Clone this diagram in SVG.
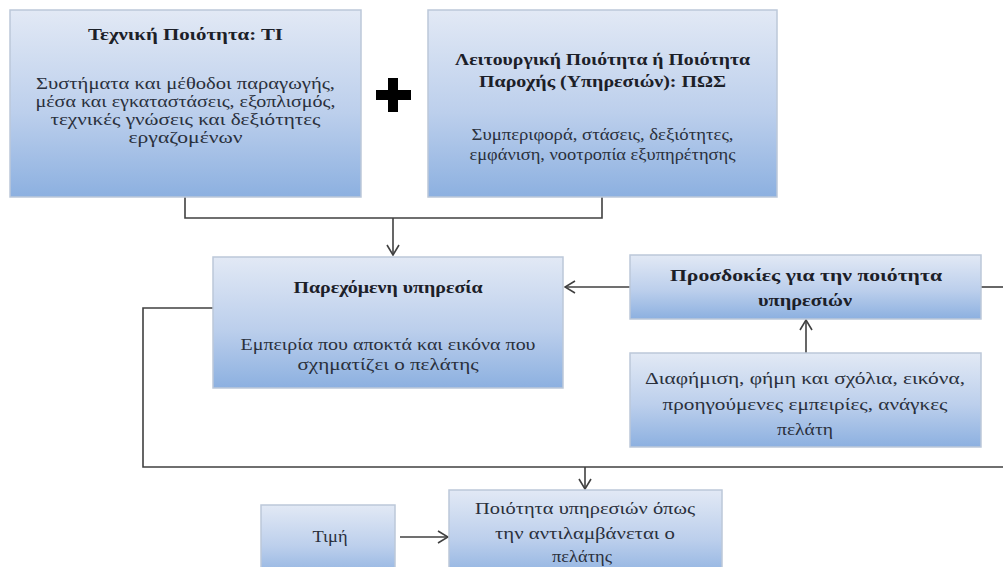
<svg xmlns="http://www.w3.org/2000/svg" width="1003" height="567" viewBox="0 0 1003 567">
<defs>
<linearGradient id="bg" x1="0" y1="0" x2="0" y2="1">
<stop offset="0" stop-color="#e2e9f5"/>
<stop offset="0.55" stop-color="#bccfec"/>
<stop offset="1" stop-color="#8cb0e0"/>
</linearGradient>
<marker id="arr" viewBox="0 0 12 14" refX="11" refY="7" markerWidth="12" markerHeight="14" markerUnits="userSpaceOnUse" orient="auto">
<path d="M1,1 L11,7 L1,13" fill="none" stroke="#404040" stroke-width="1.6"/>
</marker>
<style>
.box{fill:url(#bg);stroke:#bcc8d9;stroke-width:1.5}
.t{font-family:"Liberation Serif","Times New Roman",serif;font-size:17px;fill:#2a303c;text-anchor:middle}
.b{font-weight:bold;fill:#1c2028}
.c{fill:none;stroke:#404040;stroke-width:1.6}
</style>
</defs>
<rect width="1003" height="567" fill="#ffffff"/>
<g id="connectors">
<polyline class="c" points="185,197 185,218 602,218 602,197"/>
<line class="c" x1="393" y1="218" x2="393" y2="255" marker-end="url(#arr)"/>
<line class="c" x1="630" y1="287" x2="565" y2="287" marker-end="url(#arr)"/>
<line class="c" x1="806" y1="353" x2="806" y2="320" marker-end="url(#arr)"/>
<polyline class="c" points="213,308 143,308 143,467 1003,467"/>
<line class="c" x1="981" y1="287" x2="1003" y2="287"/>
<line class="c" x1="585" y1="467" x2="585" y2="489" marker-end="url(#arr)"/>
<line class="c" x1="400" y1="537" x2="448" y2="537" marker-end="url(#arr)"/>
</g>
<g id="plus">
<rect x="376" y="90" width="35" height="10" fill="#000"/>
<rect x="388" y="78" width="10" height="34" fill="#000"/>
</g>
<g id="technical">
<rect class="box" x="10" y="10" width="351" height="187"/>
<text class="t b" x="185.5" y="40" textLength="195" lengthAdjust="spacingAndGlyphs">Τεχνική Ποιότητα: ΤΙ</text>
<text class="t" x="185.5" y="89" textLength="299" lengthAdjust="spacingAndGlyphs">Συστήματα και μέθοδοι παραγωγής,</text>
<text class="t" x="185.5" y="107" textLength="300" lengthAdjust="spacingAndGlyphs">μέσα και εγκαταστάσεις, εξοπλισμός,</text>
<text class="t" x="185.5" y="125" textLength="270" lengthAdjust="spacingAndGlyphs">τεχνικές γνώσεις και δεξιότητες</text>
<text class="t" x="185.5" y="143" textLength="114" lengthAdjust="spacingAndGlyphs">εργαζομένων</text>
</g>
<g id="functional">
<rect class="box" x="428" y="10" width="349" height="187"/>
<text class="t b" x="602.5" y="65" textLength="295" lengthAdjust="spacingAndGlyphs">Λειτουργική Ποιότητα ή Ποιότητα</text>
<text class="t b" x="602.5" y="87" textLength="247" lengthAdjust="spacingAndGlyphs">Παροχής (Υπηρεσιών): ΠΩΣ</text>
<text class="t" x="602.5" y="140" textLength="262" lengthAdjust="spacingAndGlyphs">Συμπεριφορά, στάσεις, δεξιότητες,</text>
<text class="t" x="602.5" y="160" textLength="266" lengthAdjust="spacingAndGlyphs">εμφάνιση, νοοτροπία εξυπηρέτησης</text>
</g>
<g id="service">
<rect class="box" x="213" y="257" width="350" height="131"/>
<text class="t b" x="388" y="293" textLength="189" lengthAdjust="spacingAndGlyphs">Παρεχόμενη υπηρεσία</text>
<text class="t" x="388" y="350" textLength="295" lengthAdjust="spacingAndGlyphs">Εμπειρία που αποκτά και εικόνα που</text>
<text class="t" x="388" y="370" textLength="181" lengthAdjust="spacingAndGlyphs">σχηματίζει ο πελάτης</text>
</g>
<g id="expectations">
<rect class="box" x="630" y="255" width="351" height="64"/>
<text class="t b" x="806" y="281" textLength="272" lengthAdjust="spacingAndGlyphs">Προσδοκίες για την ποιότητα</text>
<text class="t b" x="805" y="306" textLength="94" lengthAdjust="spacingAndGlyphs">υπηρεσιών</text>
</g>
<g id="sources">
<rect class="box" x="630" y="353" width="351" height="94"/>
<text class="t" x="805" y="384" textLength="320" lengthAdjust="spacingAndGlyphs">Διαφήμιση, φήμη και σχόλια, εικόνα,</text>
<text class="t" x="805" y="410" textLength="285" lengthAdjust="spacingAndGlyphs">προηγούμενες εμπειρίες, ανάγκες</text>
<text class="t" x="805" y="435" textLength="56" lengthAdjust="spacingAndGlyphs">πελάτη</text>
</g>
<g id="price">
<rect class="box" x="261" y="505" width="134" height="75"/>
<text class="t" x="330" y="542" textLength="35" lengthAdjust="spacingAndGlyphs">Τιμή</text>
</g>
<g id="perceived">
<rect class="box" x="449" y="490" width="273" height="90"/>
<text class="t" x="585" y="514" textLength="220" lengthAdjust="spacingAndGlyphs">Ποιότητα υπηρεσιών όπως</text>
<text class="t" x="585" y="539" textLength="180" lengthAdjust="spacingAndGlyphs">την αντιλαμβάνεται ο</text>
<text class="t" x="582" y="562" textLength="60" lengthAdjust="spacingAndGlyphs">πελάτης</text>
</g>
</svg>
